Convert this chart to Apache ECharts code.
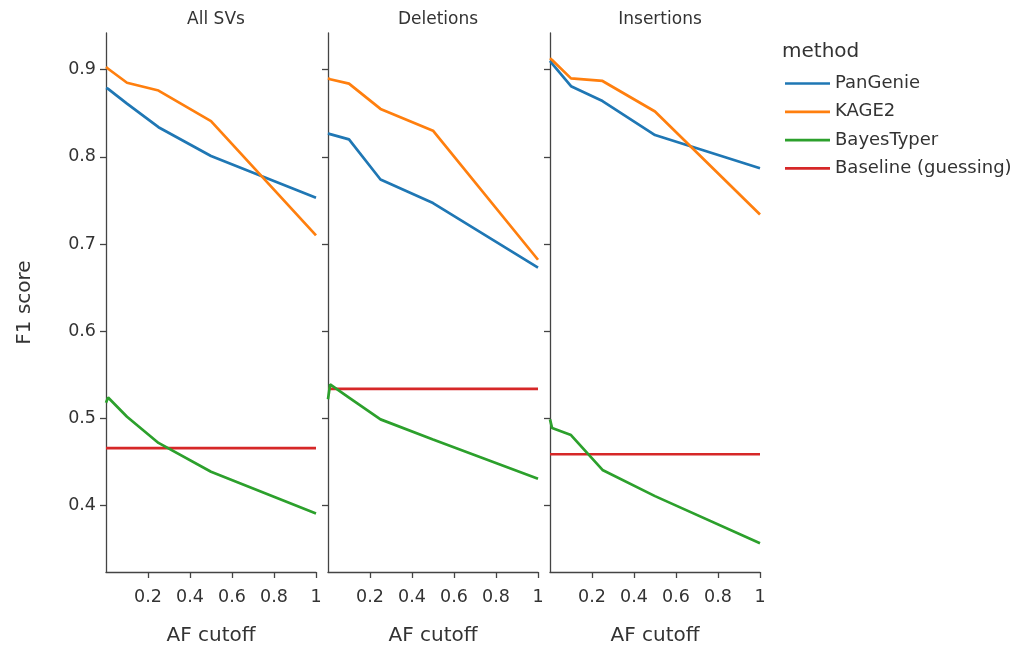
<!DOCTYPE html>
<html>
<head>
<meta charset="utf-8">
<script src="https://cdn.jsdelivr.net/npm/echarts@6/dist/echarts.min.js"></script>
<style>
  html, body { margin: 0; padding: 0; background: #fff; }
  #main { width: 1013px; height: 647px; }
</style>
</head>
<body>
<div id="main"></div>
<script>
// AF cutoff values where each method was evaluated
const afCutoffs = [0, 0.01, 0.1, 0.25, 0.5, 1];
const panels = ['All SVs', 'Deletions', 'Insertions'];
const methods = ['PanGenie', 'KAGE2', 'BayesTyper', 'Baseline (guessing)'];

// F1 scores per panel
const pangenieAll = [0.879, 0.878, 0.861, 0.834, 0.801, 0.753];
const kage2All    = [0.903, 0.901, 0.885, 0.876, 0.841, 0.710];
const bayesAll    = [0.518, 0.524, 0.502, 0.472, 0.439, 0.391];
const baselineAll = 0.466;

const pangenieDel = [0.827, 0.826, 0.820, 0.774, 0.747, 0.673];
const kage2Del    = [0.890, 0.889, 0.884, 0.855, 0.830, 0.682];
const bayesDel    = [0.522, 0.539, 0.524, 0.499, 0.476, 0.431];
const baselineDel = 0.534;

const pangenieIns = [0.910, 0.907, 0.881, 0.864, 0.825, 0.787];
const kage2Ins    = [0.913, 0.911, 0.890, 0.887, 0.852, 0.734];
const bayesIns    = [0.499, 0.489, 0.481, 0.441, 0.411, 0.357];
const baselineIns = 0.459;

const xTicks = [0.2, 0.4, 0.6, 0.8, 1];
const yTicks = [0.4, 0.5, 0.6, 0.7, 0.8, 0.9];

const colors = ['#1f77b4', '#ff7f0e', '#2ca02c', '#d62728'];
const font = 'DejaVu Sans';
const axisColor = '#444';

const panelData = [
  [pangenieAll, kage2All, bayesAll, baselineAll],
  [pangenieDel, kage2Del, bayesDel, baselineDel],
  [pangenieIns, kage2Ins, bayesIns, baselineIns]
];

const lefts = [106, 328, 550];
const grids = [], xAxes = [], yAxes = [], titles = [], series = [];

panels.forEach(function (p, i) {
  grids.push({ left: lefts[i], top: 33, width: 210, height: 539, outerBoundsMode: 'none' });
  titles.push({
    text: p, left: lefts[i] + 105, top: 6, textAlign: 'center',
    textStyle: { fontFamily: font, fontSize: 17, fontWeight: 'normal', color: '#333' }
  });
  xAxes.push({
    type: 'value', gridIndex: i, min: 0, max: 1,
    name: 'AF cutoff', nameLocation: 'middle', nameGap: 54,
    nameTextStyle: { fontFamily: font, fontSize: 20, color: '#333' },
    splitLine: { show: false },
    axisLine: { lineStyle: { color: axisColor, width: 1.3 } },
    axisTick: { length: 6, customValues: xTicks, lineStyle: { color: axisColor, width: 1.3 } },
    axisLabel: {
      customValues: xTicks, margin: 16,
      fontFamily: font, fontSize: 17.5, color: '#333',
      formatter: function (v) { return v === 1 ? '1' : v.toFixed(1); }
    }
  });
  yAxes.push({
    type: 'value', gridIndex: i, min: 0.324, max: 0.942,
    name: i === 0 ? 'F1 score' : '', nameLocation: 'middle', nameGap: 71,
    nameTextStyle: { fontFamily: font, fontSize: 20, color: '#333' },
    splitLine: { show: false },
    axisLine: { show: true, lineStyle: { color: axisColor, width: 1.3 } },
    axisTick: { show: true, length: 6, customValues: yTicks, lineStyle: { color: axisColor, width: 1.3 } },
    axisLabel: {
      show: i === 0, customValues: yTicks, margin: 10,
      fontFamily: font, fontSize: 17.5, color: '#333',
      formatter: function (v) { return v.toFixed(1); }
    }
  });
  const d = panelData[i];
  methods.forEach(function (m, k) {
    let pts;
    if (k === 3) {
      pts = [[0, d[3]], [1, d[3]]];
    } else {
      pts = afCutoffs.map(function (x, j) { return [x, d[k][j]]; });
    }
    series.push({
      name: m, type: 'line', xAxisIndex: i, yAxisIndex: i,
      data: pts, symbol: 'none', color: colors[k],
      lineStyle: { width: 2.7, color: colors[k] },
      z: k === 3 ? 1 : 2
    });
  });
});

titles.push({
  text: 'method', left: 777, top: 37,
  textStyle: { fontFamily: font, fontSize: 20, fontWeight: 'normal', color: '#333' }
});

const chart = echarts.init(document.getElementById('main'), null, { renderer: 'canvas' });
chart.setOption({
  animation: false,
  backgroundColor: '#fff',
  title: titles,
  grid: grids,
  xAxis: xAxes,
  yAxis: yAxes,
  legend: {
    data: methods, orient: 'vertical', left: 780, top: 69.5,
    itemWidth: 45, itemHeight: 18, itemGap: 10.3,
    icon: 'path://M0,0 L40,0 L40,2.4 L0,2.4 Z',
    textStyle: { fontFamily: font, fontSize: 18, lineHeight: 18, color: '#333' }
  },
  series: series
});
</script>
</body>
</html>
